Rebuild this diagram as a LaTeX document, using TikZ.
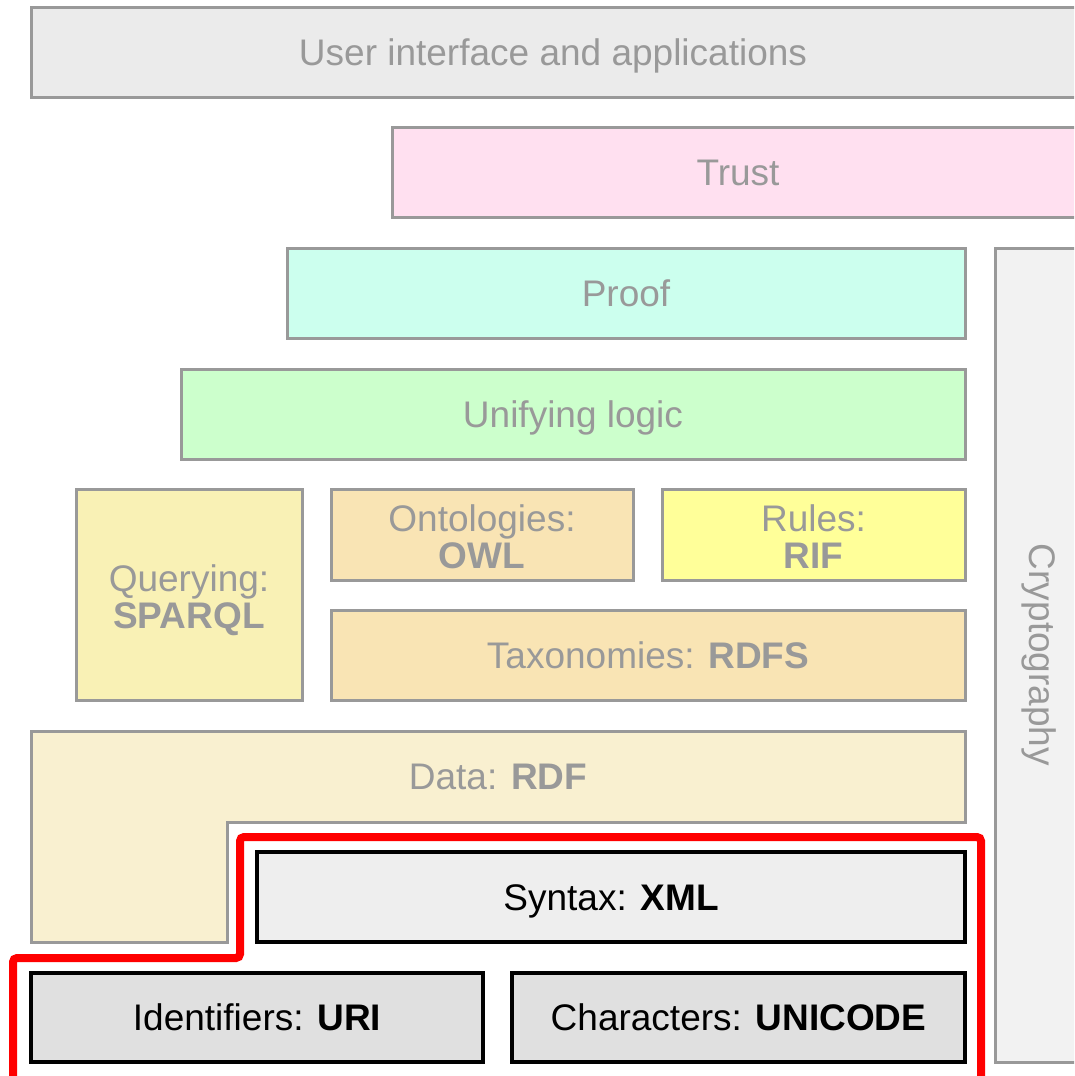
\documentclass[tikz,border=0pt]{standalone}
\usepackage{fontspec}
\setmainfont{Liberation Sans}
\definecolor{bordergray}{HTML}{999999}
\definecolor{textgray}{HTML}{999999}
\definecolor{uigray}{HTML}{EBEBEB}
\definecolor{trustpink}{HTML}{FFE0F0}
\definecolor{proofmint}{HTML}{CCFFEE}
\definecolor{logicgreen}{HTML}{CCFFCC}
\definecolor{queryyellow}{HTML}{F9F1B5}
\definecolor{ontoorange}{HTML}{F9E4B4}
\definecolor{rifyellow}{HTML}{FFFF99}
\definecolor{datacream}{HTML}{F9F0D0}
\definecolor{xmlgray}{HTML}{EEEEEE}
\definecolor{basegray}{HTML}{E0E0E0}
\definecolor{cryptogray}{HTML}{F2F2F2}
\definecolor{stackred}{HTML}{FF0000}
\newcommand\layerfont{\fontsize{37}{37}\selectfont}
\tikzset{
  textbox/.style={inner sep=0pt, font=\layerfont, align=center,
    text height=34pt, text depth=7.5pt},
  twolines/.style={text height=74.5pt},
  layer/.style={textbox, draw=bordergray, line width=3pt, text=textgray},
  baselayer/.style={textbox, draw=black, line width=4pt, text=black},
  caption/.style={textbox, text=textgray},
  highlight/.style={draw=stackred, line width=8pt, rounded corners=4pt},
}
\begin{document}
\begin{tikzpicture}[x=1pt,y=-1pt]
  \useasboundingbox (0,0) rectangle (1074,1076);
  \fill[white] (0,0) rectangle (1074,1076);
  \clip (0,0) rectangle (1074,1076);

  % upper layers of the stack
  \node[layer, fill=uigray, minimum width=1063pt, minimum height=90pt]
    (ui) at (562.5,52) {};
  \node[caption] (uitext) at (553,52) {User interface and applications};
  \node[layer, fill=trustpink, minimum width=692pt, minimum height=90pt]
    (trust) at (738,172) {Trust};
  \node[layer, fill=proofmint, minimum width=678pt, minimum height=90pt]
    (proof) at (626,293) {Proof};
  \node[layer, fill=logicgreen, minimum width=784pt, minimum height=90pt]
    (logic) at (573,414) {Unifying logic};

  \node[layer, twolines, fill=queryyellow, minimum width=226pt, minimum height=211pt]
    (query) at (189,594.5) {Querying:\\\textbf{SPARQL}};
  \node[layer, twolines, fill=ontoorange, minimum width=302pt, minimum height=91pt]
    (owl) at (482,534.5) {Ontologies:\\\textbf{OWL}};
  \node[layer, twolines, fill=rifyellow, minimum width=303pt, minimum height=91pt]
    (rif) at (813.5,534.5) {Rules:\\\textbf{RIF}};
  \node[layer, fill=ontoorange, minimum width=634pt, minimum height=90pt]
    (rdfs) at (648,655) {Taxonomies: \textbf{RDFS}};

  % data layer wraps around the syntax layer
  \filldraw[fill=datacream, draw=bordergray, line width=3pt]
    (31,731) -- (965,731) -- (965,822) -- (227,822) -- (227,942)
    -- (31,942) -- cycle;
  \node[caption] (rdf) at (498,776) {Data: \textbf{RDF}};

  % cryptography column
  \node[layer, fill=cryptogray, minimum width=96pt, minimum height=814pt]
    (crypto) at (1043,655) {};
  \node[caption, rotate=-90] (cryptotext) at (crypto.center) {Cryptography};

  % foundation layers
  \node[baselayer, fill=xmlgray, minimum width=708pt, minimum height=90pt]
    (xml) at (611,897) {Syntax: \textbf{XML}};
  \node[baselayer, fill=basegray, minimum width=452pt, minimum height=89pt]
    (uri) at (257,1017.5) {Identifiers: \textbf{URI}};
  \node[baselayer, fill=basegray, minimum width=453pt, minimum height=89pt]
    (unicode) at (738.5,1017.5) {Characters: \textbf{UNICODE}};

  % outline around the foundation layers
  \draw[highlight] (13,1090) -- (13,958) -- (240,958) -- (240,837)
    -- (981,837) -- (981,1090);
\end{tikzpicture}
\end{document}
